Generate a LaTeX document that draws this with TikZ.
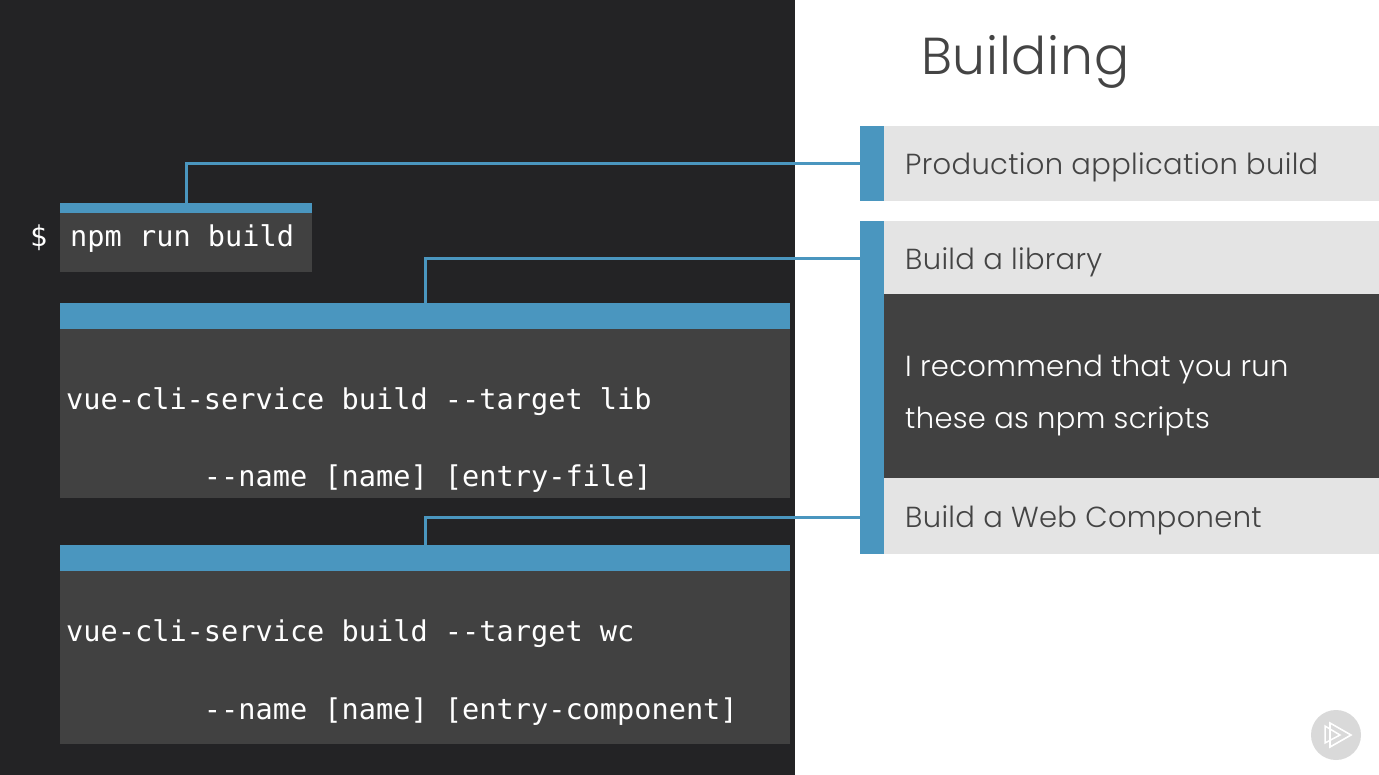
\documentclass[tikz,border=0pt]{standalone}
\usepackage{fontspec}
\setmonofont{DejaVu Sans Mono}
\newfontfamily\lightsans[LetterSpace=1.1]{Poppins Light}
\newfontfamily\titlesans[LetterSpace=1.4]{Poppins Light}
\definecolor{bgdark}{HTML}{232325}
\definecolor{boxdark}{HTML}{414141}
\definecolor{pblue}{HTML}{4A96BF}
\definecolor{lgray}{HTML}{E4E4E4}
\definecolor{ink}{HTML}{444444}
\tikzset{
  x=1pt,y=-1pt,
  area/.style={draw=none,rectangle,inner sep=0pt,outer sep=0pt,anchor=north west},
  link/.style={draw=pblue,line width=3pt},
  code/.style={font=\fontsize{28.6}{30}\selectfont\ttfamily,text=white,inner sep=0pt,anchor=base west},
  label/.style={font=\fontsize{29}{30}\selectfont\lightsans,text=ink,inner sep=0pt,anchor=base west},
}
\newcommand{\boxat}[6]{\node[area,fill=#6,minimum width=#4 pt,minimum height=#5 pt] (#1) at (#2,#3) {};}
\begin{document}
\begin{tikzpicture}
\useasboundingbox (0,0) rectangle (1379,775);
\fill[white] (0,0) rectangle (1379,775);
\boxat{bg}{0}{0}{795}{775}{bgdark}
% code boxes
\boxat{body1}{60}{203}{252}{69}{boxdark}
\boxat{hdr1}{60}{203}{252}{10}{pblue}
\boxat{body2}{60}{303}{730}{195}{boxdark}
\boxat{hdr2}{60}{303}{730}{26}{pblue}
\boxat{body3}{60}{545}{730}{199}{boxdark}
\boxat{hdr3}{60}{545}{730}{26}{pblue}
% right panel
\boxat{bar1}{860}{126}{24}{75}{pblue}
\boxat{prod}{884}{126}{495}{75}{lgray}
\boxat{bar2}{860}{221}{24}{333}{pblue}
\boxat{lib}{884}{221}{495}{73}{lgray}
\boxat{rec}{884}{294}{495}{184}{boxdark}
\boxat{wc}{884}{478}{495}{76}{lgray}
% connectors
\draw[link] (hdr1.north) |- ([yshift=-0.5pt]bar1.west);
\draw[link] (hdr2.north) |- ([yshift=-1pt]bar2.west |- lib.west);
\draw[link] (hdr3.north) |- ([yshift=-1pt]bar2.west |- wc.west);
% texts
\node[font=\fontsize{52}{56}\selectfont\titlesans,text=ink,inner sep=0pt,anchor=base west] (title) at (921,75) {Building};
\node[code] (dollar) at (30,247) {\$};
\node[code] (c1) at (70,247) {npm run build};
\node[code] (c2) at (66,409.5) {vue-cli-service build --target lib};
\node[code] (c3) at (66,486.5) {\ \ \ \ \ \ \ \ --name [name] [entry-file]};
\node[code] (c4) at (66,641.5) {vue-cli-service build --target wc};
\node[code] (c5) at (66,719.5) {\ \ \ \ \ \ \ \ --name [name] [entry-component]};
\node[label] (t1) at (905,174.5) {Production application build};
\node[label] (t2) at (905,269.5) {Build a library};
\node[label,text=white] (t3) at (905,376.5) {I recommend that you run};
\node[label,text=white] (t4) at (905,428.5) {these as npm scripts};
\node[label] (t5) at (905,527) {Build a Web Component};
% logo
\node[circle,fill=black!15,minimum size=50pt,inner sep=0pt] (logo) at (1336,735) {};
\draw[white,line width=1.5pt] (1325,726) -- (1340,735) -- (1325,743) -- cycle;
\draw[white,line width=1.6pt] (1330,723) -- (1351,735) -- (1330,747) -- cycle;
\end{tikzpicture}
\end{document}
